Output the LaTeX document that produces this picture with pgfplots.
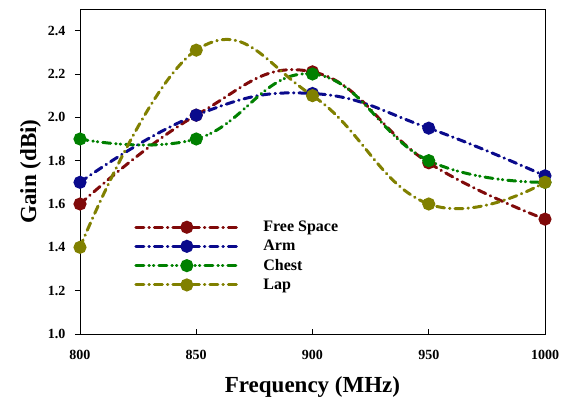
\documentclass[border=0pt]{standalone}
\usepackage{pgfplots}
\pgfplotsset{compat=1.18}
\usepackage{fontspec}
\setmainfont{Liberation Serif}
\definecolor{cFS}{RGB}{128,10,10}
\definecolor{cArm}{RGB}{10,10,140}
\definecolor{cChest}{RGB}{0,128,0}
\definecolor{cLap}{RGB}{128,128,0}
\begin{document}
\begin{tikzpicture}
\begin{axis}[
  name=ax,
  scale only axis,
  width=465pt, height=325pt,
  xmin=800, xmax=1000, ymin=1.0, ymax=2.5,
  xtick={800,850,900,950,1000},
  ytick={1.0,1.2,1.4,1.6,1.8,2.0,2.2,2.4},
  xticklabel style={/pgf/number format/1000 sep={}},
  xtick pos=bottom, ytick pos=left,
  tick align=inside,
  major tick length=5pt,
  ytick style={xshift=-5pt, black, line width=0.8pt},
  xtick style={black, line width=0.8pt},
  axis line style={line width=0.8pt},
  yticklabel style={/pgf/number format/fixed, /pgf/number format/fixed zerofill, /pgf/number format/precision=1},
  /pgf/number format/assume math mode=true,
  ticklabel style={font=\bfseries\fontsize{14}{16}\selectfont},
  xticklabel style={yshift=-13pt},
  yticklabel style={xshift=-11pt},
  xlabel={Frequency (MHz)},
  ylabel={Gain (dBi)},
  label style={font=\bfseries\fontsize{23}{26}\selectfont},
  xlabel style={yshift=-10pt},
  ylabel style={yshift=0pt},
  every axis plot/.append style={line width=3pt, line cap=round, smooth, tension=0.75, mark=*, mark size=5pt, mark options={solid}},
  legend style={at={(rel axis cs:0.11,0.36)}, anchor=north west, draw=none, fill=none,
    font=\bfseries\fontsize{16}{18}\selectfont, row sep=3pt,
    /tikz/every odd column/.append style={column sep=22pt}},
  legend cell align=left,
  legend image code/.code={\draw[mark repeat=2, mark phase=2, #1] plot coordinates {(0pt,0pt) (51pt,0pt) (102pt,0pt)};},
]
\addplot[cFS, dash pattern=on 8pt off 5pt on 0.5pt off 5pt] coordinates {(800,1.60) (850,2.01) (900,2.21) (950,1.79) (1000,1.53)};
\addlegendentry{Free Space}
\addplot[cArm, dash pattern=on 8pt off 5pt on 0.5pt off 5pt] coordinates {(800,1.70) (850,2.01) (900,2.11) (950,1.95) (1000,1.73)};
\addlegendentry{Arm}
\addplot[cChest, dash pattern=on 8pt off 5pt on 0.5pt off 4pt on 0.5pt off 5pt] coordinates {(800,1.90) (850,1.90) (900,2.20) (950,1.80) (1000,1.70)};
\addlegendentry{Chest}
\addplot[cLap, dash pattern=on 8pt off 5pt on 0.5pt off 5pt] coordinates {(800,1.40) (850,2.31) (900,2.10) (950,1.60) (1000,1.70)};
\addlegendentry{Lap}
\end{axis}
\path (ax.south west) ++(-80pt,-69pt) coordinate (bb1);
\path (ax.north east) ++(26pt,9pt) coordinate (bb2);
\useasboundingbox (bb1) rectangle (bb2);
\end{tikzpicture}
\end{document}
